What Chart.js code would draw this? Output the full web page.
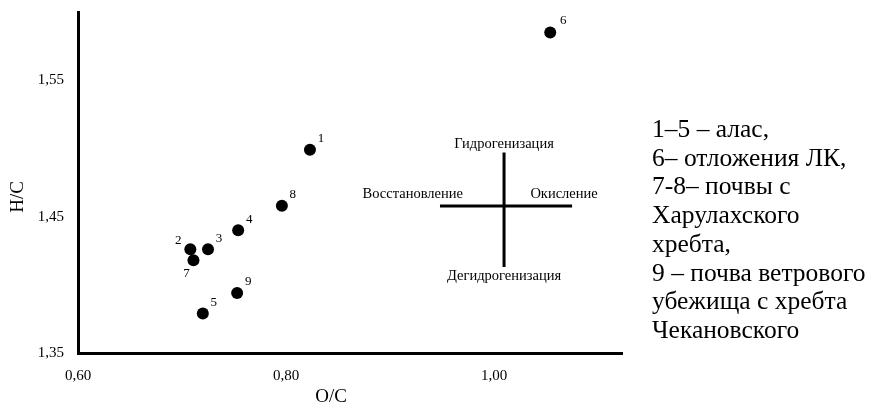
<!DOCTYPE html>
<html>
<head>
<meta charset="utf-8">
<script src="https://cdn.jsdelivr.net/npm/chart.js@4.4.1/dist/chart.umd.min.js"></script>
<style>
  html, body { margin: 0; padding: 0; background: #fff; }
  #wrap { position: relative; width: 876px; height: 405px; }
  #legendText {
    position: absolute; left: 652px; top: 115px;
    font-family: "Liberation Serif", "Times New Roman", serif;
    font-size: 25.5px; line-height: 28.7px; color: #000; white-space: nowrap;
  }
</style>
</head>
<body>
<div id="wrap">
  <canvas id="chart"></canvas>
  <div id="legendText"></div>
</div>
<script>
// sample numbers and their O/C, H/C ratios
const pointLabels = ["1", "2", "3", "4", "5", "6", "7", "8", "9"];
const ocValues = [0.823, 0.708, 0.725, 0.754, 0.720, 1.054, 0.711, 0.796, 0.753];
const hcValues = [1.499, 1.426, 1.426, 1.440, 1.379, 1.585, 1.418, 1.458, 1.394];

const xTicks = [0.60, 0.80, 1.00];
const yTicks = [1.35, 1.45, 1.55];

// process cross (van Krevelen directions)
const crossHorizX = [0.948, 1.075];
const crossHorizY = [1.4577, 1.4577];
const crossVertX = [1.0096, 1.0096];
const crossVertY = [1.497, 1.413];
const crossTexts = ["Гидрогенизация", "Дегидрогенизация", "Восстановление", "Окисление"];

const xTitle = "O/C";
const yTitle = "H/C";

const legendLines = [
  "1–5 – алас,",
  "6– отложения ЛК,",
  "7-8– почвы с",
  "Харулахского",
  "хребта,",
  "9 – почва ветрового",
  "убежища с хребта",
  "Чекановского"
];

const serif = '"Liberation Serif", "Times New Roman", serif';
const fmt = v => Number(v).toFixed(2).replace(".", ",");

document.getElementById("legendText").innerHTML = legendLines.join("<br>");

// where each number sits relative to its dot
const labelOffsets = { "2": [-12, -9], "7": [-7, 13], "6": [13, -12] };

const annotate = {
  id: "annotate",
  afterDatasetsDraw(chart) {
    const { ctx, chartArea, scales: { x, y } } = chart;
    ctx.save();
    ctx.fillStyle = "#000";
    ctx.textAlign = "center";
    ctx.textBaseline = "middle";

    ctx.font = "13px " + serif;
    pointLabels.forEach((lbl, i) => {
      const off = labelOffsets[lbl] || [11, -11];
      ctx.fillText(lbl, x.getPixelForValue(ocValues[i]) + off[0], y.getPixelForValue(hcValues[i]) + off[1]);
    });

    ctx.font = "14.5px " + serif;
    const cx = x.getPixelForValue(crossVertX[0]);
    const cy = y.getPixelForValue(crossHorizY[0]);
    ctx.fillText(crossTexts[0], cx, y.getPixelForValue(crossVertY[0]) - 8);
    ctx.fillText(crossTexts[1], cx, y.getPixelForValue(crossVertY[1]) + 9);
    ctx.textAlign = "right";
    ctx.fillText(crossTexts[2], x.getPixelForValue(crossHorizX[0]) + 23, cy - 12);
    ctx.textAlign = "center";
    ctx.fillText(crossTexts[3], x.getPixelForValue(crossHorizX[1]) - 8, cy - 12);

    ctx.font = "19px " + serif;
    ctx.fillText(xTitle, chartArea.left + 253, chartArea.bottom + 44);
    ctx.translate(chartArea.left - 60, chartArea.bottom - 156);
    ctx.rotate(-Math.PI / 2);
    ctx.fillText(yTitle, 0, 0);
    ctx.restore();
  }
};

function noPad(scale) {
  scale.paddingLeft = 0; scale.paddingRight = 0;
  scale.paddingTop = 0; scale.paddingBottom = 0;
}

new Chart(document.getElementById("chart"), {
  type: "scatter",
  data: {
    datasets: [
      {
        data: ocValues.map((v, i) => ({ x: v, y: hcValues[i] })),
        pointRadius: 6,
        pointHoverRadius: 6,
        backgroundColor: "#000",
        borderWidth: 0
      },
      {
        data: crossHorizX.map((v, i) => ({ x: v, y: crossHorizY[i] })),
        showLine: true, pointRadius: 0, borderColor: "#000", borderWidth: 3
      },
      {
        data: crossVertX.map((v, i) => ({ x: v, y: crossVertY[i] })),
        showLine: true, pointRadius: 0, borderColor: "#000", borderWidth: 3
      }
    ]
  },
  options: {
    responsive: true,
    maintainAspectRatio: false,
    animation: false,
    layout: { padding: { top: 12, right: 254, bottom: 0, left: 0 } },
    plugins: { legend: { display: false }, tooltip: { enabled: false } },
    scales: {
      x: {
        type: "linear",
        min: 0.6,
        max: 1.123,
        afterBuildTicks: s => { s.ticks = xTicks.map(v => ({ value: v })); },
        afterFit: s => { s.height = 52; noPad(s); },
        grid: { display: false, drawTicks: false },
        border: { color: "#000", width: 3 },
        ticks: {
          callback: fmt, autoSkip: false, maxRotation: 0, padding: 14,
          color: "#000", font: { family: serif, size: 15 }
        }
      },
      y: {
        type: "linear",
        min: 1.35,
        max: 1.60,
        afterBuildTicks: s => { s.ticks = yTicks.map(v => ({ value: v })); },
        afterFit: s => { s.width = 78; noPad(s); },
        grid: { display: false, drawTicks: false },
        border: { color: "#000", width: 3 },
        ticks: {
          callback: fmt, autoSkip: false, padding: 14,
          color: "#000", font: { family: serif, size: 15 }
        }
      }
    }
  },
  plugins: [annotate]
});
</script>
</body>
</html>
